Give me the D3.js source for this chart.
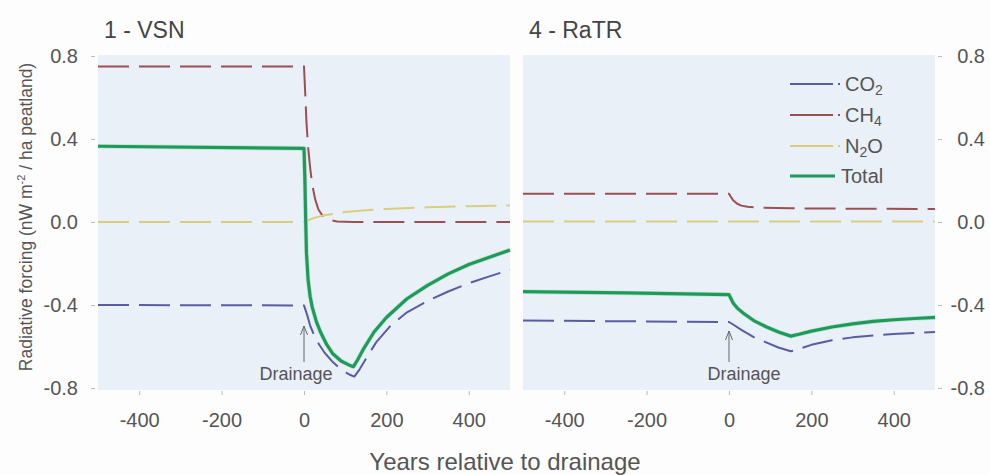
<!DOCTYPE html>
<html><head><meta charset="utf-8">
<script src="https://cdn.jsdelivr.net/npm/d3@7"></script>
<style>
html,body{margin:0;padding:0;background:#fdfdfd;}
svg{display:block;font-family:"Liberation Sans",Arial,sans-serif;}
</style></head>
<body><svg id="c" width="990" height="475"></svg>
<script>
// ---- Data (years relative to drainage, radiative forcing nW m-2 / ha peatland)
const panelTitles = ["1 - VSN", "4 - RaTR"];
const xTicks = [-400, -200, 0, 200, 400];
const xTickLabels = ["-400", "-200", "0", "200", "400"];
const yTicks = [-0.8, -0.4, 0.0, 0.4, 0.8];
const yTickLabels = ["-0.8", "-0.4", "0.0", "0.4", "0.8"];
const seriesNames = ["CO2", "CH4", "N2O", "Total"];

const vsnCO2 = [[-500,-0.400],[0,-0.402],[3,-0.42],[8,-0.45],[15,-0.50],[30,-0.57],[50,-0.63],[70,-0.675],[90,-0.71],[110,-0.735],[122,-0.745],[135,-0.71],[150,-0.66],[175,-0.58],[210,-0.50],[250,-0.435],[300,-0.38],[350,-0.335],[400,-0.295],[450,-0.262],[500,-0.23]];
const vsnCH4 = [[-500,0.75],[0,0.75],[3,0.62],[6,0.48],[10,0.36],[15,0.26],[20,0.18],[27,0.11],[35,0.06],[45,0.03],[58,0.012],[80,0.002],[120,0.0],[500,0.0]];
const vsnN2O = [[-500,0.0],[0,0.0],[10,0.008],[25,0.02],[50,0.033],[100,0.048],[150,0.057],[200,0.063],[300,0.071],[400,0.076],[500,0.08]];
const vsnTotal = [[-500,0.365],[0,0.355],[2,0.22],[4,0.02],[6,-0.15],[10,-0.28],[15,-0.36],[20,-0.41],[30,-0.48],[40,-0.53],[55,-0.59],[70,-0.635],[90,-0.67],[110,-0.69],[120,-0.697],[130,-0.665],[145,-0.61],[170,-0.53],[200,-0.46],[250,-0.37],[300,-0.305],[350,-0.25],[400,-0.205],[450,-0.17],[500,-0.135]];

const ratrCO2 = [[-500,-0.475],[0,-0.482],[10,-0.494],[30,-0.52],[60,-0.555],[90,-0.58],[120,-0.605],[150,-0.623],[170,-0.612],[200,-0.592],[250,-0.57],[300,-0.556],[350,-0.547],[400,-0.54],[450,-0.535],[500,-0.53]];
const ratrCH4 = [[-500,0.136],[0,0.136],[5,0.12],[10,0.105],[20,0.088],[30,0.079],[45,0.073],[70,0.069],[150,0.066],[300,0.064],[500,0.063]];
const ratrN2O = [[-500,0.003],[0,0.003],[500,0.003]];
const ratrTotal = [[-500,-0.336],[-250,-0.342],[0,-0.35],[5,-0.37],[10,-0.39],[20,-0.415],[35,-0.44],[60,-0.475],[90,-0.505],[120,-0.53],[150,-0.55],[170,-0.541],[200,-0.526],[250,-0.506],[300,-0.491],[350,-0.479],[400,-0.471],[450,-0.465],[500,-0.46]];

const panelSeries = [
  [vsnCO2, vsnCH4, vsnN2O, vsnTotal],
  [ratrCO2, ratrCH4, ratrN2O, ratrTotal]
];

// ---- Styles
const colors = {CO2:"#5a5ca3", CH4:"#9a4f52", N2O:"#d8cf7e", Total:"#1f9a5c"};
const dash = {CO2:"31,10", CH4:"31,10", N2O:"31,10", Total:null};
const widths = {CO2:2, CH4:2, N2O:2, Total:3.2};
const txt = "#555";

const svg = d3.select("#c");
const plotTop = 56, plotBottom = 388;
const y = d3.scaleLinear().domain([-0.8, 0.8]).range([plotBottom, plotTop]);
const panels = [{x0:98, x1:510}, {x0:523, x1:935}];

panels.forEach((p, i) => {
  const x = d3.scaleLinear().domain([-500, 500]).range([p.x0, p.x1]);
  const g = svg.append("g");
  g.append("rect").attr("x", p.x0).attr("y", plotTop - 1).attr("width", p.x1 - p.x0).attr("height", plotBottom - plotTop + 3)
    .attr("fill", "#e9f0f8");

  // x axis
  const xa = g.append("g").attr("transform", `translate(0,${plotBottom + 3})`)
    .call(d3.axisBottom(x).tickValues(xTicks).tickSize(4).tickPadding(18).tickFormat((d, k) => xTickLabels[k]));
  xa.select(".domain").remove();
  xa.selectAll("line").attr("stroke", "#bbb");
  xa.selectAll("text").attr("fill", txt).attr("font-size", 20);

  // y axis
  const yAxis = i === 0 ? d3.axisLeft(y) : d3.axisRight(y);
  const ya = g.append("g").attr("transform", `translate(${i === 0 ? p.x0 - 3 : p.x1 + 3},0)`)
    .call(yAxis.tickValues(yTicks).tickSize(4).tickPadding(13).tickFormat((d, k) => yTickLabels[k]));
  ya.select(".domain").remove();
  ya.selectAll("line").attr("stroke", "#bbb");
  ya.selectAll("text").attr("fill", txt).attr("font-size", 20);
  if (i === 1) ya.selectAll("text").attr("text-anchor", "end").attr("x", 47);

  // title
  g.append("text").attr("x", p.x0 + 6).attr("y", 38).attr("fill", "#444").attr("font-size", 23)
    .text(panelTitles[i]);

  // lines
  const line = d3.line().x(d => x(d[0])).y(d => y(d[1])).curve(d3.curveLinear);
  panelSeries[i].forEach((data, k) => {
    const name = seriesNames[k];
    if (name === "Total") {
      g.append("path").datum(data).attr("d", line).attr("fill", "none")
        .attr("stroke", "#bfe6cf").attr("stroke-width", 4.6).attr("stroke-linejoin", "round");
    }
    g.append("path").datum(data).attr("d", line).attr("fill", "none")
      .attr("stroke", colors[name]).attr("stroke-width", widths[name])
      .attr("stroke-dasharray", dash[name]).attr("stroke-linejoin", "round");
  });

  // drainage annotation
  const ax = x(0);
  const headY = i === 0 ? 326 : 331;
  g.append("line").attr("x1", ax).attr("x2", ax).attr("y1", headY).attr("y2", 362)
    .attr("stroke", "#666").attr("stroke-width", 1);
  g.append("path").attr("d", `M${ax-3.5},${headY+9} L${ax},${headY} L${ax+3.5},${headY+9}`)
    .attr("fill", "none").attr("stroke", "#666").attr("stroke-width", 1);
  g.append("text").attr("x", i === 0 ? ax - 8 : ax + 15).attr("y", 380).attr("text-anchor", "middle")
    .attr("fill", "#555").attr("font-size", 18).text("Drainage");
});

// legend (in right panel)
const legX = 790, legY = [84, 115, 146, 176];
const legLabels = [["CO","2"],["CH","4"],["N","2","O"],["Total"]];
seriesNames.forEach((name, k) => {
  const lg = svg.append("g");
  if (name === "Total") {
    lg.append("line").attr("x1", legX).attr("x2", legX + 45).attr("y1", legY[k]).attr("y2", legY[k])
      .attr("stroke", colors[name]).attr("stroke-width", 3.2);
  } else {
    lg.append("line").attr("x1", legX).attr("x2", legX + 43).attr("y1", legY[k]).attr("y2", legY[k])
      .attr("stroke", colors[name]).attr("stroke-width", 2);
    lg.append("line").attr("x1", legX + 48).attr("x2", legX + 50).attr("y1", legY[k]).attr("y2", legY[k])
      .attr("stroke", colors[name]).attr("stroke-width", 2);
  }
  const t = lg.append("text").attr("x", name === "Total" ? legX + 51 : legX + 55).attr("y", legY[k] + 7)
    .attr("fill", txt).attr("font-size", 20);
  const parts = legLabels[k];
  t.append("tspan").text(parts[0]);
  if (parts.length > 1) {
    t.append("tspan").attr("font-size", 14).attr("dy", 4).text(parts[1]);
    if (parts.length > 2) t.append("tspan").attr("dy", -4).text(parts[2]);
  }
});

// axis titles
svg.append("text").attr("x", 505).attr("y", 470).attr("text-anchor", "middle").attr("fill", txt)
  .attr("font-size", 24).text("Years relative to drainage");
const yt = svg.append("text").attr("transform", "translate(32,217) rotate(-90)").attr("text-anchor", "middle")
  .attr("fill", txt).attr("font-size", 17.5);
yt.append("tspan").text("Radiative forcing (nW m");
yt.append("tspan").attr("font-size", 11).attr("dy", -7).text("-2");
yt.append("tspan").attr("dy", 7).text(" / ha peatland)");
</script></body></html>
